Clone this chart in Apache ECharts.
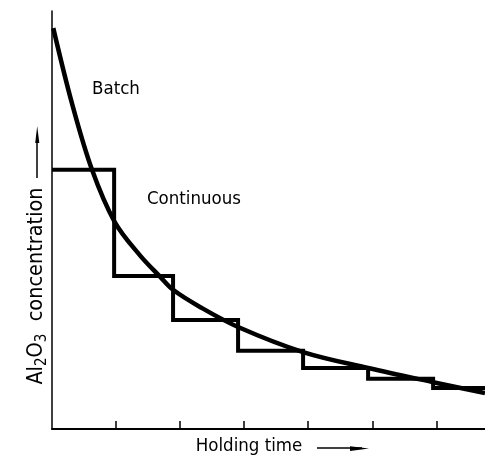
<!DOCTYPE html>
<html>
<head>
<meta charset="utf-8">
<script src="https://cdn.jsdelivr.net/npm/echarts@6/dist/echarts.min.js"></script>
<style>
html,body{margin:0;padding:0;background:#fff;}
#chart{width:485px;height:457px;}
</style>
</head>
<body>
<div id="chart"></div>
<script>
// Holding time in tick units, concentration in % of axis height
var batchTime = [0.02, 0.31, 0.625, 0.98, 1.37, 1.69, 1.89, 2.31, 2.905, 3.92, 4.935, 5.95, 6.76];
var batchConc = [95.9, 78.0, 62.0, 49.5, 41.6, 36.4, 33.3, 29.2, 24.4, 18.4, 14.6, 11.2, 8.6];
var stepTime = [0, 0.97, 1.89, 2.905, 3.92, 4.935, 5.95, 6.76];
var stepConc = [62.0, 36.6, 26.1, 18.7, 14.6, 12.0, 9.8, 9.8];
var xTicks = [1, 2, 3, 4, 5, 6];

var FONT = "'DejaVu Sans Condensed', 'Liberation Sans Narrow', 'DejaVu Sans', sans-serif";

var chart = echarts.init(document.getElementById('chart'), null, {renderer: 'canvas'});
var batchData = batchTime.map(function (t, i) { return [t, batchConc[i]]; });
var stepData = stepTime.map(function (t, i) { return [t, stepConc[i]]; });

chart.setOption({
  backgroundColor: '#ffffff',
  animation: false,
  grid: {left: 52, right: 0, top: 11, bottom: 28},
  xAxis: {
    type: 'value', min: 0, max: 6.76, interval: 1,
    axisLine: {show: true, onZero: false, lineStyle: {color: '#000', width: 2}},
    axisTick: {show: true, inside: true, length: 8, customValues: xTicks, lineStyle: {color: '#000', width: 1.5}},
    axisLabel: {show: false},
    splitLine: {show: false}
  },
  yAxis: {
    type: 'value', min: 0, max: 100,
    axisLine: {show: true, lineStyle: {color: '#000', width: 1.5}},
    axisTick: {show: false},
    axisLabel: {show: false},
    splitLine: {show: false}
  },
  series: [
    {
      name: 'Batch', type: 'line', data: batchData, smooth: 0.35,
      showSymbol: false, symbol: 'none',
      lineStyle: {color: '#000', width: 4.5}
    },
    {
      name: 'Continuous', type: 'line', data: stepData, step: 'end',
      showSymbol: false, symbol: 'none',
      lineStyle: {color: '#000', width: 4, join: 'miter'}
    }
  ],
  graphic: [
    {type: 'text', x: 116, y: 89.5, style: {text: 'Batch', font: '18.5px ' + FONT, fill: '#000', align: 'center', verticalAlign: 'middle'}},
    {type: 'text', x: 194, y: 199.5, style: {text: 'Continuous', font: '18.5px ' + FONT, fill: '#000', align: 'center', verticalAlign: 'middle'}},
    {type: 'text', x: 249, y: 446.5, style: {text: 'Holding time', font: '18.5px ' + FONT, fill: '#000', align: 'center', verticalAlign: 'middle'}},
    {type: 'line', shape: {x1: 317, y1: 448, x2: 362, y2: 448}, style: {stroke: '#000', lineWidth: 1.5}},
    {type: 'polygon', shape: {points: [[350, 446.3], [369, 448.5], [350, 451]]}, style: {fill: '#000'}},
    {type: 'text', x: 36, y: 286, rotation: Math.PI / 2,
      style: {
        text: '{n|Al}{s|2}{n|O}{s|3}{n|  concentration}',
        align: 'center', verticalAlign: 'middle', fill: '#000',
        rich: {
          n: {font: '21.5px ' + FONT, lineHeight: 28, fill: '#000'},
          s: {font: '15px ' + FONT, lineHeight: 15, verticalAlign: 'bottom', fill: '#000'}
        }
      }
    },
    {type: 'line', shape: {x1: 37, y1: 178, x2: 37, y2: 135}, style: {stroke: '#000', lineWidth: 1.5}},
    {type: 'polygon', shape: {points: [[35.2, 143], [37.2, 126], [39.3, 143]]}, style: {fill: '#000'}}
  ]
});
</script>
</body>
</html>
